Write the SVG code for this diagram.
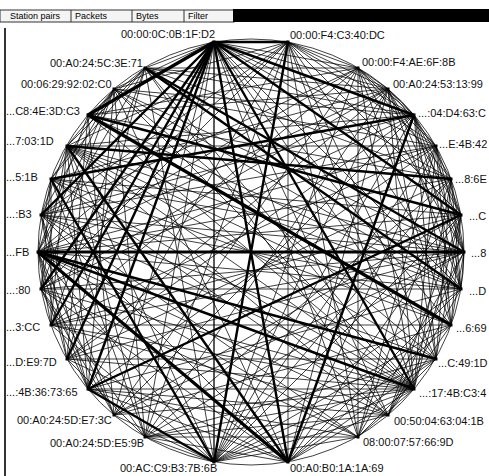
<svg xmlns="http://www.w3.org/2000/svg" width="489" height="476" viewBox="0 0 489 476">
<style>
.hdr{font-family:"Liberation Sans",Arial,sans-serif;font-size:9px;fill:#000}
.lbl{font-family:"Liberation Sans",Arial,sans-serif;font-size:11px;fill:#111}
#connectors line{stroke:#000;stroke-width:.75;fill:none}
#connectors line.m{stroke-width:1.3}
#connectors line.t{stroke-width:2.4}
#connectors line.tt{stroke-width:3.2}
.nd{fill:#000}
</style>
<rect width="489" height="476" fill="#fff"/>
<g id="header">
<rect x="0" y="10" width="234" height="12" fill="#f4f4f4" stroke="#333" stroke-width="1"/>
<rect x="233" y="9" width="256" height="13" fill="#000"/>
<line x1="71" y1="10" x2="71" y2="22" stroke="#333"/>
<line x1="132" y1="10" x2="132" y2="22" stroke="#333"/>
<line x1="184" y1="10" x2="184" y2="22" stroke="#333"/>
<text class="hdr" x="10" y="19">Station pairs</text>
<text class="hdr" x="75" y="19">Packets</text>
<text class="hdr" x="136" y="19">Bytes</text>
<text class="hdr" x="188" y="19">Filter</text>
<line x1="5" y1="28" x2="5" y2="476" stroke="#000" stroke-width="1.6"/>
</g>
<circle cx="251" cy="252" r="213" fill="none" stroke="#000" stroke-width=".75"/>
<g id="connectors">
<line x1="288" y1="42" x2="358" y2="68"/><line x1="288" y1="42" x2="388" y2="89"/><line x1="288" y1="42" x2="436" y2="146"/><line x1="288" y1="42" x2="461" y2="215"/><line x1="288" y1="42" x2="461" y2="289"/><line x1="288" y1="42" x2="436" y2="359"/><line x1="288" y1="42" x2="414" y2="389"/><line x1="288" y1="42" x2="358" y2="437"/><line x1="288" y1="42" x2="145" y2="437"/><line x1="288" y1="42" x2="88" y2="389"/><line x1="288" y1="42" x2="41" y2="289"/><line x1="288" y1="42" x2="38" y2="252"/><line x1="288" y1="42" x2="41" y2="215"/><line x1="288" y1="42" x2="67" y2="146"/><line x1="288" y1="42" x2="114" y2="89"/><line x1="288" y1="42" x2="288" y2="462"/><line x1="288" y1="42" x2="414" y2="115"/>
<line x1="358" y1="68" x2="388" y2="89"/><line x1="358" y1="68" x2="414" y2="115"/><line x1="358" y1="68" x2="436" y2="146"/><line x1="358" y1="68" x2="451" y2="179"/><line x1="358" y1="68" x2="464" y2="252"/><line x1="358" y1="68" x2="451" y2="325"/><line x1="358" y1="68" x2="414" y2="389"/><line x1="358" y1="68" x2="358" y2="437"/><line x1="358" y1="68" x2="214" y2="462"/><line x1="358" y1="68" x2="114" y2="415"/><line x1="358" y1="68" x2="51" y2="325"/><line x1="358" y1="68" x2="38" y2="252"/><line x1="358" y1="68" x2="41" y2="215"/><line x1="358" y1="68" x2="88" y2="115"/><line x1="358" y1="68" x2="145" y2="68"/><line x1="358" y1="68" x2="214" y2="42"/>
<line x1="388" y1="89" x2="414" y2="115"/><line x1="388" y1="89" x2="436" y2="146"/><line x1="388" y1="89" x2="461" y2="215"/><line x1="388" y1="89" x2="464" y2="252"/><line x1="388" y1="89" x2="461" y2="289"/><line x1="388" y1="89" x2="436" y2="359"/><line x1="388" y1="89" x2="414" y2="389"/><line x1="388" y1="89" x2="288" y2="462"/><line x1="388" y1="89" x2="214" y2="462"/><line x1="388" y1="89" x2="145" y2="437"/><line x1="388" y1="89" x2="67" y2="359"/><line x1="388" y1="89" x2="41" y2="289"/><line x1="388" y1="89" x2="38" y2="252"/><line x1="388" y1="89" x2="51" y2="179"/><line x1="388" y1="89" x2="88" y2="115"/><line x1="388" y1="89" x2="145" y2="68"/><line x1="388" y1="89" x2="214" y2="42"/>
<line x1="414" y1="115" x2="451" y2="179"/><line x1="414" y1="115" x2="461" y2="215"/><line x1="414" y1="115" x2="464" y2="252"/><line x1="414" y1="115" x2="461" y2="289"/><line x1="414" y1="115" x2="451" y2="325"/><line x1="414" y1="115" x2="436" y2="359"/><line x1="414" y1="115" x2="214" y2="462"/><line x1="414" y1="115" x2="114" y2="415"/><line x1="414" y1="115" x2="67" y2="359"/><line x1="414" y1="115" x2="41" y2="289"/><line x1="414" y1="115" x2="41" y2="215"/><line x1="414" y1="115" x2="67" y2="146"/><line x1="414" y1="115" x2="114" y2="89"/><line x1="414" y1="115" x2="145" y2="68"/>
<line x1="436" y1="146" x2="461" y2="215"/><line x1="436" y1="146" x2="464" y2="252"/><line x1="436" y1="146" x2="461" y2="289"/><line x1="436" y1="146" x2="451" y2="325"/><line x1="436" y1="146" x2="414" y2="389"/><line x1="436" y1="146" x2="358" y2="437"/><line x1="436" y1="146" x2="288" y2="462"/><line x1="436" y1="146" x2="214" y2="462"/><line x1="436" y1="146" x2="88" y2="389"/><line x1="436" y1="146" x2="51" y2="325"/><line x1="436" y1="146" x2="38" y2="252"/><line x1="436" y1="146" x2="41" y2="215"/><line x1="436" y1="146" x2="67" y2="146"/><line x1="436" y1="146" x2="114" y2="89"/><line x1="436" y1="146" x2="214" y2="42"/>
<line x1="451" y1="179" x2="464" y2="252"/><line x1="451" y1="179" x2="461" y2="289"/><line x1="451" y1="179" x2="436" y2="359"/><line x1="451" y1="179" x2="414" y2="389"/><line x1="451" y1="179" x2="358" y2="437"/><line x1="451" y1="179" x2="214" y2="462"/><line x1="451" y1="179" x2="145" y2="437"/><line x1="451" y1="179" x2="67" y2="359"/><line x1="451" y1="179" x2="38" y2="252"/><line x1="451" y1="179" x2="88" y2="115"/><line x1="451" y1="179" x2="145" y2="68"/><line x1="451" y1="179" x2="214" y2="42"/>
<line x1="461" y1="215" x2="451" y2="325"/><line x1="461" y1="215" x2="436" y2="359"/><line x1="461" y1="215" x2="414" y2="389"/><line x1="461" y1="215" x2="388" y2="415"/><line x1="461" y1="215" x2="288" y2="462"/><line x1="461" y1="215" x2="214" y2="462"/><line x1="461" y1="215" x2="114" y2="415"/><line x1="461" y1="215" x2="51" y2="325"/><line x1="461" y1="215" x2="38" y2="252"/><line x1="461" y1="215" x2="51" y2="179"/>
<line x1="464" y1="252" x2="461" y2="289"/><line x1="464" y1="252" x2="451" y2="325"/><line x1="464" y1="252" x2="388" y2="415"/><line x1="464" y1="252" x2="358" y2="437"/><line x1="464" y1="252" x2="145" y2="437"/><line x1="464" y1="252" x2="114" y2="415"/><line x1="464" y1="252" x2="67" y2="359"/><line x1="464" y1="252" x2="51" y2="325"/><line x1="464" y1="252" x2="41" y2="289"/><line x1="464" y1="252" x2="41" y2="215"/><line x1="464" y1="252" x2="51" y2="179"/><line x1="464" y1="252" x2="67" y2="146"/><line x1="464" y1="252" x2="114" y2="89"/>
<line x1="461" y1="289" x2="388" y2="415"/><line x1="461" y1="289" x2="288" y2="462"/><line x1="461" y1="289" x2="214" y2="462"/><line x1="461" y1="289" x2="88" y2="389"/><line x1="461" y1="289" x2="41" y2="289"/><line x1="461" y1="289" x2="38" y2="252"/><line x1="461" y1="289" x2="41" y2="215"/><line x1="461" y1="289" x2="67" y2="146"/><line x1="461" y1="289" x2="88" y2="115"/><line x1="461" y1="289" x2="114" y2="89"/><line x1="461" y1="289" x2="214" y2="42"/>
<line x1="451" y1="325" x2="388" y2="415"/><line x1="451" y1="325" x2="288" y2="462"/><line x1="451" y1="325" x2="214" y2="462"/><line x1="451" y1="325" x2="114" y2="415"/><line x1="451" y1="325" x2="51" y2="325"/><line x1="451" y1="325" x2="51" y2="179"/><line x1="451" y1="325" x2="67" y2="146"/><line x1="451" y1="325" x2="214" y2="42"/>
<line x1="436" y1="359" x2="358" y2="437"/><line x1="436" y1="359" x2="288" y2="462"/><line x1="436" y1="359" x2="214" y2="462"/><line x1="436" y1="359" x2="145" y2="437"/><line x1="436" y1="359" x2="67" y2="359"/><line x1="436" y1="359" x2="41" y2="215"/><line x1="436" y1="359" x2="67" y2="146"/><line x1="436" y1="359" x2="114" y2="89"/><line x1="436" y1="359" x2="214" y2="42"/>
<line x1="414" y1="389" x2="358" y2="437"/><line x1="414" y1="389" x2="288" y2="462"/><line x1="414" y1="389" x2="214" y2="462"/><line x1="414" y1="389" x2="145" y2="437"/><line x1="414" y1="389" x2="114" y2="415"/><line x1="414" y1="389" x2="88" y2="389"/><line x1="414" y1="389" x2="67" y2="359"/><line x1="414" y1="389" x2="51" y2="325"/><line x1="414" y1="389" x2="41" y2="289"/><line x1="414" y1="389" x2="41" y2="215"/><line x1="414" y1="389" x2="51" y2="179"/><line x1="414" y1="389" x2="67" y2="146"/><line x1="414" y1="389" x2="88" y2="115"/><line x1="414" y1="389" x2="114" y2="89"/><line x1="414" y1="389" x2="145" y2="68"/>
<line x1="388" y1="415" x2="214" y2="462"/><line x1="388" y1="415" x2="145" y2="437"/><line x1="388" y1="415" x2="88" y2="389"/><line x1="388" y1="415" x2="51" y2="325"/><line x1="388" y1="415" x2="38" y2="252"/><line x1="388" y1="415" x2="51" y2="179"/><line x1="388" y1="415" x2="67" y2="146"/><line x1="388" y1="415" x2="145" y2="68"/><line x1="388" y1="415" x2="214" y2="42"/>
<line x1="358" y1="437" x2="214" y2="462"/><line x1="358" y1="437" x2="145" y2="437"/><line x1="358" y1="437" x2="88" y2="389"/><line x1="358" y1="437" x2="41" y2="289"/><line x1="358" y1="437" x2="38" y2="252"/><line x1="358" y1="437" x2="41" y2="215"/><line x1="358" y1="437" x2="214" y2="42"/>
<line x1="288" y1="462" x2="145" y2="437"/><line x1="288" y1="462" x2="88" y2="389"/><line x1="288" y1="462" x2="67" y2="359"/><line x1="288" y1="462" x2="41" y2="289"/><line x1="288" y1="462" x2="41" y2="215"/><line x1="288" y1="462" x2="114" y2="89"/>
<line x1="214" y1="462" x2="145" y2="437"/><line x1="214" y1="462" x2="114" y2="415"/><line x1="214" y1="462" x2="51" y2="325"/><line x1="214" y1="462" x2="38" y2="252"/><line x1="214" y1="462" x2="67" y2="146"/><line x1="214" y1="462" x2="145" y2="68"/>
<line x1="145" y1="437" x2="67" y2="359"/><line x1="145" y1="437" x2="41" y2="289"/><line x1="145" y1="437" x2="51" y2="179"/><line x1="145" y1="437" x2="67" y2="146"/><line x1="145" y1="437" x2="114" y2="89"/><line x1="145" y1="437" x2="214" y2="42"/>
<line x1="114" y1="415" x2="41" y2="289"/><line x1="114" y1="415" x2="38" y2="252"/><line x1="114" y1="415" x2="41" y2="215"/><line x1="114" y1="415" x2="88" y2="115"/><line x1="114" y1="415" x2="214" y2="42"/>
<line x1="88" y1="389" x2="41" y2="289"/><line x1="88" y1="389" x2="38" y2="252"/><line x1="88" y1="389" x2="41" y2="215"/><line x1="88" y1="389" x2="67" y2="146"/><line x1="88" y1="389" x2="114" y2="89"/>
<line x1="67" y1="359" x2="38" y2="252"/><line x1="67" y1="359" x2="41" y2="215"/><line x1="67" y1="359" x2="88" y2="115"/><line x1="67" y1="359" x2="145" y2="68"/>
<line x1="51" y1="325" x2="38" y2="252"/><line x1="51" y1="325" x2="51" y2="179"/><line x1="51" y1="325" x2="67" y2="146"/><line x1="51" y1="325" x2="145" y2="68"/>
<line x1="41" y1="289" x2="51" y2="179"/><line x1="41" y1="289" x2="67" y2="146"/><line x1="41" y1="289" x2="114" y2="89"/>
<line x1="38" y1="252" x2="51" y2="179"/><line x1="38" y1="252" x2="88" y2="115"/><line x1="38" y1="252" x2="114" y2="89"/><line x1="38" y1="252" x2="145" y2="68"/>
<line x1="41" y1="215" x2="67" y2="146"/><line x1="41" y1="215" x2="114" y2="89"/><line x1="51" y1="179" x2="114" y2="89"/><line x1="51" y1="179" x2="145" y2="68"/><line x1="67" y1="146" x2="114" y2="89"/><line x1="67" y1="146" x2="145" y2="68"/><line x1="88" y1="115" x2="145" y2="68"/><line x1="114" y1="89" x2="214" y2="42"/><line x1="145" y1="68" x2="214" y2="42"/>
<line class="m" x1="214" y1="42" x2="214" y2="462"/>
<line class="t" x1="51" y1="179" x2="214" y2="462"/><line class="t" x1="88" y1="389" x2="214" y2="462"/><line class="t" x1="88" y1="389" x2="214" y2="42"/><line class="t" x1="214" y1="42" x2="288" y2="462"/><line class="t" x1="288" y1="42" x2="214" y2="462"/><line class="t" x1="214" y1="42" x2="414" y2="389"/><line class="t" x1="214" y1="42" x2="414" y2="115"/><line class="t" x1="414" y1="115" x2="288" y2="462"/><line class="t" x1="214" y1="42" x2="41" y2="289"/><line class="t" x1="214" y1="42" x2="51" y2="325"/><line class="t" x1="214" y1="42" x2="41" y2="215"/><line class="t" x1="214" y1="42" x2="67" y2="359"/><line class="t" x1="51" y1="179" x2="414" y2="115"/><line class="t" x1="38" y1="252" x2="414" y2="389"/><line class="t" x1="38" y1="252" x2="436" y2="359"/><line class="t" x1="67" y1="146" x2="288" y2="462"/><line class="t" x1="214" y1="42" x2="461" y2="215"/><line class="t" x1="145" y1="68" x2="461" y2="289"/><line class="t" x1="145" y1="68" x2="464" y2="252"/><line class="t" x1="88" y1="115" x2="461" y2="215"/><line class="t" x1="67" y1="146" x2="451" y2="179"/><line class="t" x1="461" y1="215" x2="88" y2="389"/><line class="t" x1="214" y1="42" x2="288" y2="42"/>
<line class="tt" x1="38" y1="252" x2="464" y2="252"/><line class="tt" x1="38" y1="252" x2="288" y2="462"/><line class="tt" x1="214" y1="42" x2="88" y2="115"/><line class="tt" x1="88" y1="115" x2="451" y2="325"/>
</g>
<g id="n350"><rect class="nd" x="212.5" y="40.5" width="3" height="3"/><text class="lbl" x="121" y="38">00:00:0C:0B:1F:D2</text></g>
<g id="n10"><rect class="nd" x="286.5" y="40.5" width="3" height="3"/><text class="lbl" x="290" y="39">00:00:F4:C3:40:DC</text></g>
<g id="n30"><rect class="nd" x="356.5" y="66.5" width="3" height="3"/><text class="lbl" x="362" y="66">00:00:F4:AE:6F:8B</text></g>
<g id="n40"><rect class="nd" x="386.5" y="87.5" width="3" height="3"/><text class="lbl" x="393" y="88">00:A0:24:53:13:99</text></g>
<g id="n50"><rect class="nd" x="412.5" y="113.5" width="3" height="3"/><text class="lbl" x="418" y="117">...:04:D4:63:C</text></g>
<g id="n60"><rect class="nd" x="434.5" y="144.5" width="3" height="3"/><text class="lbl" x="439" y="148">...E:4B:42</text></g>
<g id="n70"><rect class="nd" x="449.5" y="177.5" width="3" height="3"/><text class="lbl" x="455" y="183">...8:6E</text></g>
<g id="n80"><rect class="nd" x="459.5" y="213.5" width="3" height="3"/><text class="lbl" x="469" y="220">...C</text></g>
<g id="n90"><rect class="nd" x="462.5" y="250.5" width="3" height="3"/><text class="lbl" x="471" y="257">...8</text></g>
<g id="n100"><rect class="nd" x="459.5" y="287.5" width="3" height="3"/><text class="lbl" x="469" y="295">...D</text></g>
<g id="n110"><rect class="nd" x="449.5" y="323.5" width="3" height="3"/><text class="lbl" x="456" y="332">...6:69</text></g>
<g id="n120"><rect class="nd" x="434.5" y="357.5" width="3" height="3"/><text class="lbl" x="438" y="367">...C:49:1D</text></g>
<g id="n130"><rect class="nd" x="412.5" y="387.5" width="3" height="3"/><text class="lbl" x="419" y="397">...:17:4B:C3:4</text></g>
<g id="n140"><rect class="nd" x="386.5" y="413.5" width="3" height="3"/><text class="lbl" x="394" y="425">00:50:04:63:04:1B</text></g>
<g id="n150"><rect class="nd" x="356.5" y="435.5" width="3" height="3"/><text class="lbl" x="363" y="446">08:00:07:57:66:9D</text></g>
<g id="n170"><rect class="nd" x="286.5" y="460.5" width="3" height="3"/><text class="lbl" x="290" y="472">00:A0:B0:1A:1A:69</text></g>
<g id="n190"><rect class="nd" x="212.5" y="460.5" width="3" height="3"/><text class="lbl" x="120" y="472">00:AC:C9:B3:7B:6B</text></g>
<g id="n210"><rect class="nd" x="143.5" y="435.5" width="3" height="3"/><text class="lbl" x="50" y="447">00:A0:24:5D:E5:9B</text></g>
<g id="n220"><rect class="nd" x="112.5" y="413.5" width="3" height="3"/><text class="lbl" x="17" y="424">00:A0:24:5D:E7:3C</text></g>
<g id="n230"><rect class="nd" x="86.5" y="387.5" width="3" height="3"/><text class="lbl" x="6" y="396">...:4B:36:73:65</text></g>
<g id="n240"><rect class="nd" x="65.5" y="357.5" width="3" height="3"/><text class="lbl" x="6" y="366">...D:E9:7D</text></g>
<g id="n250"><rect class="nd" x="49.5" y="323.5" width="3" height="3"/><text class="lbl" x="6" y="331">...3:CC</text></g>
<g id="n260"><rect class="nd" x="39.5" y="287.5" width="3" height="3"/><text class="lbl" x="6" y="294">...:80</text></g>
<g id="n270"><rect class="nd" x="36.5" y="250.5" width="3" height="3"/><text class="lbl" x="6" y="256">...FB</text></g>
<g id="n280"><rect class="nd" x="39.5" y="213.5" width="3" height="3"/><text class="lbl" x="6" y="218">...:B3</text></g>
<g id="n290"><rect class="nd" x="49.5" y="177.5" width="3" height="3"/><text class="lbl" x="6" y="181">...5:1B</text></g>
<g id="n300"><rect class="nd" x="65.5" y="144.5" width="3" height="3"/><text class="lbl" x="6" y="145">...7:03:1D</text></g>
<g id="n310"><rect class="nd" x="86.5" y="113.5" width="3" height="3"/><text class="lbl" x="6" y="115">...C8:4E:3D:C3</text></g>
<g id="n320"><rect class="nd" x="112.5" y="87.5" width="3" height="3"/><text class="lbl" x="21" y="88">00:06:29:92:02:C0</text></g>
<g id="n330"><rect class="nd" x="143.5" y="66.5" width="3" height="3"/><text class="lbl" x="50" y="67">00:A0:24:5C:3E:71</text></g>
</svg>
